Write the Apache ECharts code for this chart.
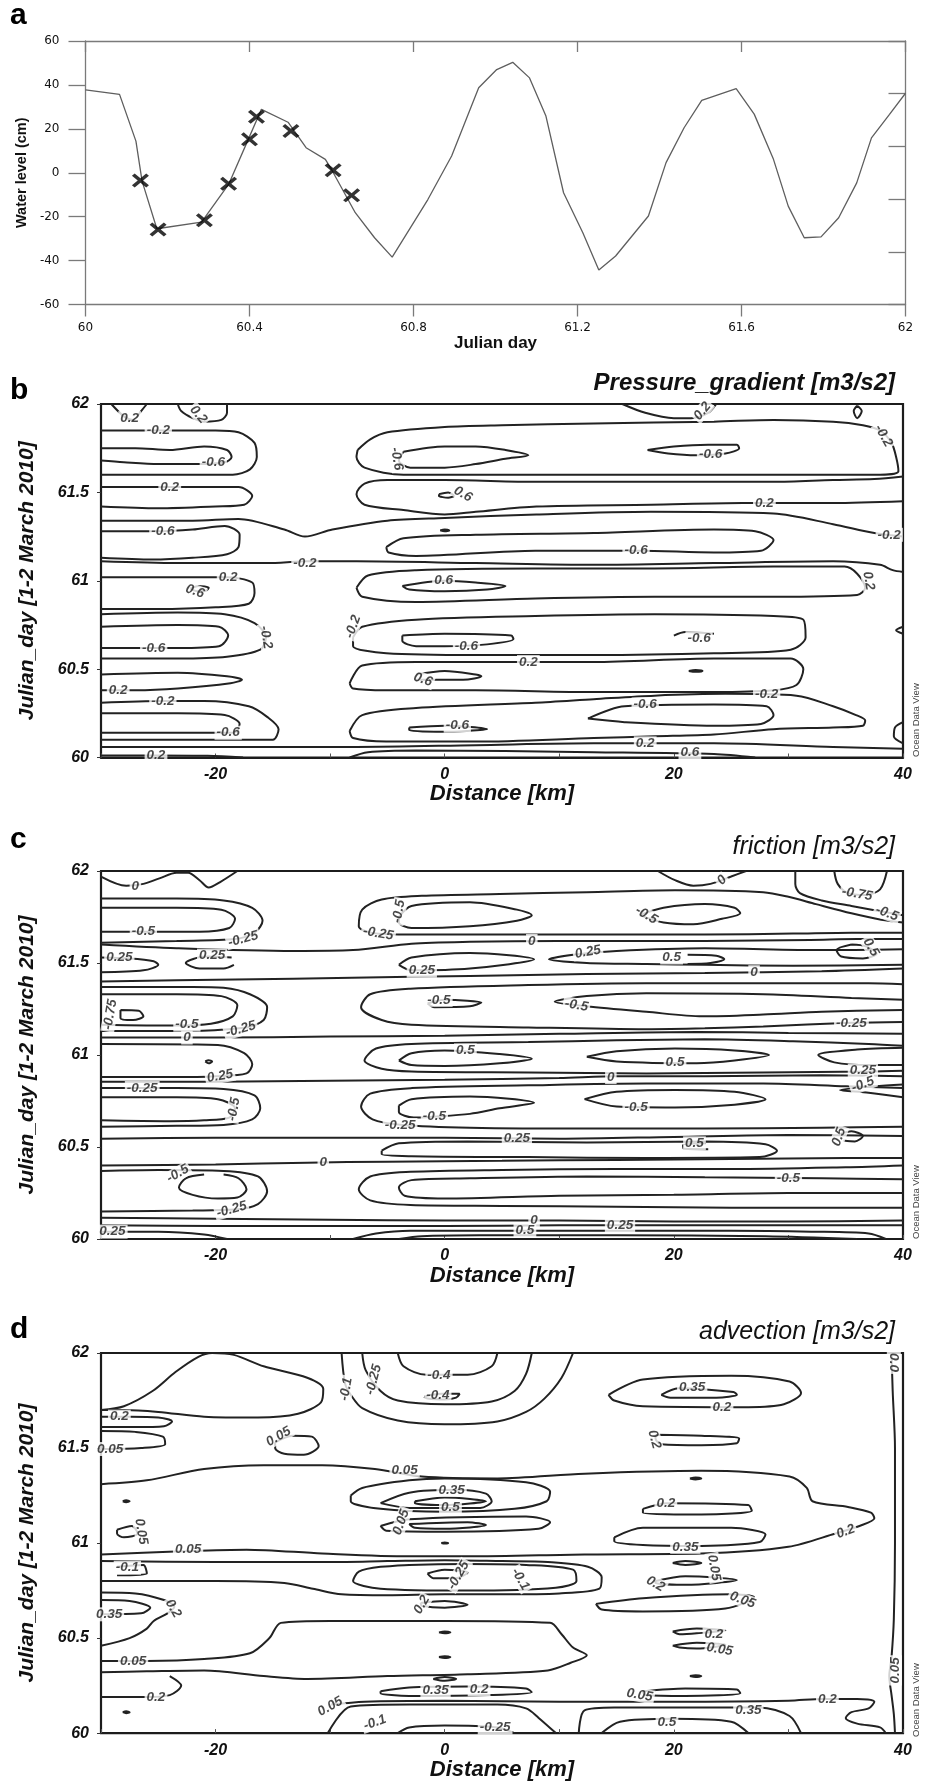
<!DOCTYPE html>
<html><head><meta charset="utf-8">
<script src="https://cdn.jsdelivr.net/npm/echarts@6/dist/echarts.min.js"></script>
<style>html,body{margin:0;padding:0;background:#fff}#chart{width:933px;height:1782px}</style>
</head><body><div id="chart"></div>
<script>
// ---------- Panel a: water level ----------
const wlDays = [60.000,60.083,60.123,60.138,60.174,60.283,60.349,60.397,60.429,60.494,60.538,60.585,60.600,60.658,60.705,60.748,60.835,60.893,60.959,61.003,61.042,61.083,61.123,61.166,61.213,61.252,61.293,61.373,61.416,61.460,61.503,61.587,61.631,61.678,61.714,61.753,61.794,61.837,61.881,61.917,61.961,62.000];
const wlLevels = [37.7,35.7,14.4,-3.8,-25.5,-22.5,-5.3,15.2,28.9,23.0,11.4,6.1,1.5,-18.2,-29.6,-38.4,-12.2,7.6,38.7,47.0,50.3,43.2,25.8,-9.1,-27.3,-44.3,-37.9,-19.7,4.6,20.5,33.0,38.3,26.7,6.1,-15.2,-29.6,-29.2,-20.5,-4.6,15.9,26.6,36.2];
const markDays = [60.134,60.177,60.290,60.349,60.400,60.417,60.501,60.604,60.649];
const markLevels = [-3.5,-25.8,-21.6,-5.0,15.2,25.5,19.0,1.1,-10.3];

// ---------- Panel b: Pressure_gradient contours [km, day] ----------
const pgLines = [
 [[-29.1,62],[-28,61.93],[-27.2,61.91],[-26.5,61.96],[-26,62]],
 [[-23.3,62],[-23,61.96],[-22,61.92],[-21,61.9],[-19.5,61.91],[-19,61.95],[-19,62]],
 [[15.5,62],[17.5,61.95],[20,61.92],[21.5,61.92],[23,61.95],[23.7,62]],
 [[36,61.99],[36.4,61.96],[36,61.92],[35.7,61.96],[36,61.99]],
 [[-30,61.85],[-25,61.85],[-20,61.85],[-18,61.84],[-16.6,61.78],[-16.4,61.7],[-17,61.63],[-18.5,61.6],[-22,61.6],[-26,61.6],[-30,61.6]],
 [[-30,61.75],[-27,61.75],[-24,61.74],[-21,61.76],[-19,61.74],[-18.6,61.7],[-19.2,61.67],[-21.5,61.66],[-25,61.66],[-28,61.67],[-30,61.68]],
 [[-7.6,61.74],[-6.5,61.8],[-5,61.84],[0,61.87],[5,61.88],[13,61.89],[23.5,61.9],[28.7,61.91],[33.9,61.9],[36.5,61.88],[38,61.85],[39,61.78],[39.4,61.7],[39.6,61.62],[38,61.6],[33.9,61.6],[23.5,61.6],[13,61.6],[3,61.6],[-3.6,61.6],[-7,61.64],[-7.7,61.7],[-7.6,61.74]],
 [[-3.6,61.73],[0,61.76],[2.7,61.76],[5.3,61.74],[7.3,61.71],[5.3,61.69],[2.7,61.66],[0,61.64],[-3,61.64],[-4,61.68],[-3.6,61.73]],
 [[17.7,61.74],[20,61.76],[23,61.77],[25.5,61.77],[25.7,61.75],[24.5,61.72],[22,61.71],[19.5,61.72],[17.7,61.74]],
 [[-30,61.53],[-26,61.53],[-22,61.53],[-18,61.53],[-16.8,61.48],[-17.5,61.43],[-20,61.42],[-25,61.41],[-30,61.42]],
 [[40,61.59],[37.5,61.575],[33.9,61.57],[28.7,61.56],[18,61.56],[8,61.56],[0,61.57],[-5,61.57],[-7,61.55],[-7.7,61.49],[-7,61.43],[-3.6,61.4],[0,61.375],[2.7,61.39],[8,61.42],[18,61.43],[26,61.44],[33.9,61.44],[40,61.45]],
 [[-0.5,61.49],[0.3,61.5],[0.8,61.48],[0.3,61.47],[-0.5,61.48],[-0.5,61.49]],
 [[-30,61.34],[-22,61.34],[-18,61.35],[-14,61.29],[-12.2,61.25],[-9.8,61.29],[-5,61.34],[0,61.355],[8,61.375],[18,61.39],[28.7,61.38],[33.9,61.32],[37.5,61.27],[40,61.25]],
 [[-30,61.28],[-25,61.28],[-22,61.29],[-19.2,61.31],[-17.9,61.26],[-18,61.19],[-19,61.15],[-22,61.13],[-25.5,61.12],[-30,61.13]],
 [[-5.1,61.19],[-3.6,61.24],[2.7,61.26],[13,61.27],[23.5,61.29],[27.1,61.28],[28.7,61.23],[27.6,61.17],[23.5,61.16],[17,61.17],[7.9,61.17],[-2.5,61.14],[-4.9,61.16],[-5.1,61.19]],
 [[-0.4,61.285],[0,61.29],[0.4,61.285],[0,61.28],[-0.4,61.285]],
 [[-30,61.11],[-23.3,61.1],[-15.5,61.1],[-12,61.11],[-7.7,61.11],[2.7,61.1],[13,61.09],[23.5,61.1],[33.9,61.11],[38,61.09],[39.1,61.06],[40,61.05]],
 [[-30,61.02],[-22,61.02],[-19,61.02],[-16.8,60.99],[-16.6,60.93],[-17.1,60.87],[-20,60.85],[-25,60.84],[-30,60.84]],
 [[-22.2,60.955],[-21.5,60.97],[-20.6,60.96],[-20.8,60.945],[-21.6,60.94],[-22.2,60.955]],
 [[-7.7,60.96],[-6.7,61.03],[-2.5,61.06],[7.9,61.07],[18.3,61.07],[28.7,61.08],[34.9,61.08],[36,61.04],[36.7,60.96],[36,60.92],[28.7,60.91],[18.3,60.91],[7.9,60.9],[-2.5,60.88],[-7.2,60.91],[-7.7,60.96]],
 [[-3.7,60.97],[0,61.0],[2.7,60.99],[5.3,60.97],[3.7,60.95],[0,60.94],[-3.1,60.95],[-3.7,60.97]],
 [[-30,60.81],[-23.3,60.82],[-19.2,60.81],[-16.6,60.76],[-15.6,60.68],[-16.1,60.61],[-19,60.57],[-23.3,60.56],[-30,60.56]],
 [[-30,60.74],[-23.3,60.75],[-19.7,60.74],[-18.9,60.69],[-19.7,60.63],[-23.3,60.62],[-30,60.62]],
 [[-8,60.68],[-7.2,60.74],[-2.5,60.78],[7.9,60.8],[18.3,60.81],[28.7,60.8],[31.3,60.78],[31.5,60.68],[30.2,60.61],[23.5,60.59],[13,60.58],[2.7,60.58],[-5.1,60.59],[-8,60.63],[-8,60.68]],
 [[-3.7,60.69],[0,60.7],[5.8,60.69],[6,60.67],[3.7,60.64],[0,60.63],[-2.5,60.63],[-3.7,60.66],[-3.7,60.69]],
 [[20,60.69],[21,60.71],[23.5,60.7]],
 [[40,60.74],[39.4,60.72],[40,60.7]],
 [[-30,60.47],[-23.3,60.48],[-19,60.46],[-17.7,60.44],[-18.7,60.42],[-23.3,60.39],[-27,60.38],[-30,60.38]],
 [[-8.3,60.42],[-7.2,60.52],[-2.5,60.54],[5.3,60.54],[13,60.54],[23.5,60.56],[30.2,60.56],[31.3,60.5],[30.7,60.41],[28.7,60.38],[23.5,60.37],[13,60.37],[2.7,60.38],[-5.1,60.38],[-8,60.39],[-8.3,60.42]],
 [[-2.5,60.47],[0,60.49],[2.7,60.47],[3.2,60.46],[1.6,60.44],[-2.5,60.44]],
 [[21.3,60.49],[21.9,60.495],[22.5,60.49],[21.9,60.485],[21.3,60.49]],
 [[-30,60.31],[-24.6,60.32],[-21,60.32],[-17.1,60.29],[-15.5,60.23],[-14.5,60.16],[-15,60.1],[-18.1,60.1],[-23.3,60.1],[-30,60.1]],
 [[-30,60.25],[-23.3,60.25],[-19.2,60.24],[-17.9,60.19],[-18.4,60.14],[-23.3,60.14],[-30,60.14]],
 [[-8.3,60.15],[-7.2,60.24],[-2.5,60.28],[7.9,60.31],[13,60.33],[18.3,60.35],[24.5,60.36],[30.7,60.35],[33.9,60.29],[35.9,60.24],[36.7,60.21],[36.5,60.18],[33.9,60.17],[28.7,60.16],[23.5,60.13],[18.3,60.12],[13,60.11],[2.7,60.09],[-5.1,60.09],[-8,60.11],[-8.3,60.15]],
 [[-3.1,60.17],[0,60.18],[3.7,60.16],[1.9,60.15],[0,60.145],[-3.1,60.155],[-3.1,60.17]],
 [[12.5,60.22],[15.7,60.29],[23.5,60.3],[28.1,60.29],[28.7,60.24],[27.6,60.19],[23.5,60.18],[15.7,60.2],[12.5,60.22]],
 [[40,60.2],[39.3,60.17],[39.2,60.12],[40,60.08]],
 [[-30,60.06],[-18.1,60.06],[-7.7,60.06],[2.7,60.07],[13,60.08],[23.5,60.08],[33.9,60.06],[40,60.05]],
 [[-30,60.012],[-25.2,60.012],[-20.7,60.01],[-17.6,60]],
 [[-8.3,60],[-6.7,60.03],[-2.5,60.04],[13,60.03],[23.5,60.02],[27.1,60]]
];
const pgLabels = [
 [-27.5,61.92,'0.2',0],[-21.5,61.94,'0.2',-50],[22.5,61.96,'0.2',50],
 [-25,61.85,'-0.2',0],[-20.2,61.67,'-0.6',0],[38.3,61.82,'-0.2',-60],[-4.2,61.69,'-0.6',-80],[23.2,61.715,'-0.6',0],
 [-24,61.53,'0.2',0],[1.6,61.49,'0.6',-30],[27.9,61.44,'0.2',0],
 [38.8,61.26,'-0.2',0],[-24.6,61.28,'-0.6',0],[16.7,61.17,'-0.6',0],[-12.2,61.1,'-0.2',0],
 [-18.9,61.02,'0.2',0],[-21.8,60.94,'0.6',-20],[37,61.0,'0.2',-80],[-0.1,61.0,'0.6',0],
 [-15.6,60.68,'-0.2',-80],[-25.4,60.62,'-0.6',0],[-8,60.74,'-0.2',70],[1.9,60.63,'-0.6',0],[22.2,60.675,'-0.6',0],
 [-28.5,60.38,'0.2',0],[7.3,60.54,'0.2',0],[-1.9,60.44,'0.6',-20],
 [-24.6,60.32,'-0.2',0],[-18.9,60.14,'-0.6',0],[28.1,60.36,'-0.2',0],[1.1,60.18,'-0.6',0],[17.5,60.3,'-0.6',0],
 [17.5,60.08,'0.2',0],[-25.2,60.012,'0.2',0],[21.4,60.03,'0.6',0]
];

// ---------- Panel c: friction contours ----------
const frLines = [
 [[-30,61.97],[-27.8,61.92],[-26.3,61.93],[-24.9,61.96],[-23.4,61.99],[-22.4,61.99],[-21.4,61.95],[-20.6,61.91],[-19.6,61.94],[-18.1,62]],
 [[18.6,62],[20.1,61.95],[21.7,61.92],[23.2,61.93],[25,61.97],[26.3,62]],
 [[30.6,62],[30.6,61.93],[31,61.88],[32.9,61.84],[35.5,61.81],[38.1,61.78],[40,61.76]],
 [[34,62],[34.3,61.93],[35.2,61.88],[36.7,61.87],[38,61.9],[38.6,62]],
 [[-30,61.85],[-23.4,61.85],[-19.3,61.84],[-16.8,61.8],[-15.9,61.73],[-16.5,61.67],[-18.3,61.63],[-23.4,61.62],[-30,61.61]],
 [[-30,61.8],[-23.4,61.8],[-19.5,61.79],[-18.3,61.74],[-18.8,61.69],[-21.4,61.67],[-24.5,61.67],[-30,61.67]],
 [[40,61.72],[38.1,61.735],[35.5,61.77],[32.4,61.82],[30,61.86],[27.8,61.885],[20.1,61.895],[12.4,61.885],[4.8,61.875],[-2,61.865],[-5.5,61.845],[-7.2,61.79],[-7.5,61.7],[-6.5,61.665],[-4,61.655],[2.2,61.655],[12.4,61.655],[22.7,61.655],[30.4,61.66],[35.5,61.665],[40,61.665]],
 [[-4,61.75],[-2.9,61.81],[2.2,61.83],[6.3,61.79],[7.6,61.76],[6.3,61.73],[2.2,61.7],[-2.9,61.69],[-4,61.72],[-4,61.75]],
 [[17,61.76],[19.1,61.8],[22.7,61.82],[25.3,61.8],[25.8,61.77],[24.2,61.74],[21.7,61.71],[19.1,61.72],[17,61.76]],
 [[-30,61.6],[-23.4,61.58],[-13.2,61.565],[-8,61.57],[-2.9,61.605],[2.2,61.615],[9.9,61.62],[22.7,61.62],[31.9,61.625],[36,61.63],[40,61.63]],
 [[-30,61.53],[-27.5,61.525],[-25.4,61.51],[-25,61.49],[-26.3,61.46],[-30,61.45]],
 [[-18.6,61.53],[-20.9,61.535],[-22.6,61.5],[-21.4,61.47],[-19.3,61.47],[-18.4,61.49]],
 [[-4,61.49],[-2.9,61.53],[2.2,61.555],[7.8,61.52],[2.2,61.47],[-2.9,61.46],[-4,61.49]],
 [[40,61.575],[32.9,61.57],[22.7,61.58],[15,61.565],[11.2,61.545],[9.1,61.52],[12.4,61.5],[17.6,61.495],[22.7,61.49],[30.4,61.485],[40,61.49]],
 [[21.2,61.545],[23.7,61.54],[24.4,61.52],[23.2,61.5],[21.2,61.495]],
 [[35.5,61.6],[34.2,61.57],[34.6,61.535],[36.5,61.525],[37.7,61.55],[36.8,61.59],[35.5,61.6]],
 [[-30,61.4],[-18.3,61.41],[-8.1,61.42],[2.2,61.43],[12.4,61.44],[22.7,61.445],[32.9,61.455],[40,61.47]],
 [[-30,61.37],[-22,61.37],[-19.3,61.365],[-17,61.33],[-15.5,61.26],[-15.8,61.19],[-17.3,61.15],[-23.4,61.13],[-30,61.13]],
 [[-30,61.33],[-23.4,61.33],[-19.5,61.32],[-18.1,61.27],[-18.5,61.21],[-20.4,61.17],[-23.4,61.16],[-30,61.165]],
 [[-28.3,61.245],[-26.7,61.24],[-26.3,61.21],[-27.2,61.19],[-28.3,61.2],[-28.3,61.245]],
 [[40,61.385],[37,61.39],[27.8,61.39],[17.6,61.39],[7.3,61.38],[-3,61.36],[-6.5,61.33],[-7.3,61.26],[-5.5,61.19],[-2.9,61.165],[7.3,61.15],[17.6,61.14],[22.7,61.145],[27.8,61.155],[35.5,61.175],[40,61.18]],
 [[-1.5,61.28],[0,61.3],[3.2,61.285],[2.2,61.265],[-0.9,61.26],[-1.5,61.28]],
 [[40,61.3],[35.5,61.31],[27.8,61.33],[17.6,61.335],[12.4,61.32],[9.6,61.29],[12.4,61.265],[17.6,61.235],[22.5,61.21],[27.8,61.22],[32.9,61.235],[40,61.245]],
 [[-30,61.095],[-20,61.095],[-10,61.1],[0,61.105],[10,61.115],[22,61.125],[30,61.12],[40,61.115]],
 [[-30,61.06],[-19.8,61.055],[-17.5,61.01],[-16.8,60.95],[-17.3,60.9],[-20,60.885],[-23.4,60.88],[-30,60.88]],
 [[-20.9,60.965],[-20.6,60.972],[-20.3,60.965],[-20.6,60.955],[-20.9,60.965]],
 [[40,61.05],[37,61.06],[30.4,61.075],[22.7,61.085],[15,61.08],[7.3,61.07],[-2.9,61.06],[-6,61.035],[-7,60.97],[-5.5,60.925],[-2.9,60.91],[7.3,60.905],[17.6,60.9],[27.8,60.905],[37,60.91],[40,60.915]],
 [[-4,60.97],[-2.9,61.01],[0,61.025],[4.8,61.005],[7.6,60.98],[4.8,60.955],[0,60.94],[-2.9,60.945],[-4,60.97]],
 [[12.4,60.99],[15,61.02],[20.1,61.035],[25.3,61.025],[28.3,61.0],[25.3,60.97],[22,60.955],[15,60.965],[12.4,60.99]],
 [[40,61.04],[36,61.03],[32.6,61.0],[34,60.96],[37,60.945],[40,60.945]],
 [[-30,60.855],[-20,60.855],[-10,60.86],[0,60.865],[10,60.875],[15,60.885],[22.7,60.885],[32.9,60.89],[40,60.885]],
 [[-30,60.82],[-23.4,60.82],[-19.3,60.815],[-16.6,60.78],[-16.1,60.71],[-16.8,60.65],[-19.3,60.62],[-23.4,60.615],[-30,60.61]],
 [[-30,60.77],[-23.4,60.77],[-19.8,60.76],[-18.3,60.71],[-18.8,60.66],[-21,60.645],[-24,60.64],[-30,60.645]],
 [[40,60.82],[35,60.83],[27.8,60.845],[17.6,60.845],[7.3,60.835],[-2.9,60.82],[-6.5,60.79],[-7.3,60.72],[-6.3,60.65],[-3.7,60.62],[2.2,60.605],[12.4,60.6],[22.7,60.6],[32.9,60.605],[40,60.61]],
 [[-4,60.725],[-2.9,60.76],[2.2,60.775],[7.8,60.74],[4.8,60.71],[2.2,60.68],[-1,60.665],[-2.7,60.66],[-4,60.69],[-4,60.725]],
 [[12.2,60.76],[15,60.8],[20.1,60.81],[25.3,60.8],[28,60.76],[25.3,60.73],[20.1,60.715],[15,60.72],[12.2,60.76]],
 [[40,60.77],[37,60.795],[34.5,60.81],[37.5,60.83],[40,60.84]],
 [[-30,60.545],[-20,60.55],[-10,60.55],[0,60.55],[10,60.545],[20,60.555],[30,60.565],[40,60.56]],
 [[-5.5,60.48],[-4,60.52],[2,60.53],[12.4,60.525],[22.7,60.53],[28,60.515],[29,60.48],[27.5,60.445],[17.6,60.44],[7.3,60.445],[-2.9,60.45],[-5.5,60.46],[-5.5,60.48]],
 [[22.8,60.52],[20.8,60.51],[20.9,60.49],[23,60.488]],
 [[34.5,60.57],[35.5,60.585],[36.5,60.56],[35.8,60.53],[34.8,60.535]],
 [[-30,60.4],[-20,60.405],[-12,60.415],[-5,60.42],[5,60.425],[15,60.43],[25,60.435],[35,60.44],[40,60.44]],
 [[-21,60.35],[-22.6,60.33],[-23.2,60.28],[-22,60.24],[-19.8,60.22],[-18.1,60.225],[-17.3,60.27],[-18,60.33],[-19.3,60.35]],
 [[-30,60.37],[-25,60.375],[-19.3,60.37],[-16.3,60.34],[-15.5,60.26],[-16.3,60.19],[-18.3,60.16],[-22,60.155],[-30,60.15]],
 [[40,60.4],[35,60.39],[25,60.38],[15,60.38],[5,60.375],[-3,60.365],[-6.5,60.34],[-7.5,60.27],[-6.5,60.21],[-3,60.185],[5,60.18],[15,60.175],[25,60.17],[35,60.17],[40,60.17]],
 [[40,60.25],[30,60.25],[20,60.24],[10,60.235],[0,60.22],[-3.5,60.235],[-4,60.28],[-2.9,60.32],[2.2,60.33],[12.4,60.34],[22.7,60.335],[32.9,60.33],[40,60.325]],
 [[-30,60.115],[-20,60.11],[-10,60.105],[0,60.1],[10,60.1],[20,60.095],[30,60.095],[40,60.1]],
 [[-30,60.075],[-20,60.07],[-10,60.07],[0,60.07],[10,60.075],[20,60.075],[30,60.075],[40,60.075]],
 [[-30,60.04],[-25,60.04],[-21,60.025],[-19,60]],
 [[-8,60],[-6,60.03],[-3,60.045],[5,60.045],[15,60.045],[25,60.045],[32,60.04],[37,60.03],[38.5,60]],
 [[-4,60],[-2,60.015],[3,60.02],[15,60.02],[28,60.015],[36,60]]
];
const frLabels = [
 [-27,61.915,'0',0],[24.2,61.95,'0',45],[38.6,61.77,'-0.5',-20],[36,61.875,'-0.75',-10],
 [-17.6,61.63,'-0.25',15],[-26.3,61.67,'-0.5',0],[-5.8,61.66,'-0.25',-10],[-4,61.78,'-0.5',80],[17.6,61.76,'-0.5',-30],
 [7.6,61.62,'0',0],[-28.4,61.53,'0.25',0],[-20.3,61.54,'0.25',0],[-2,61.458,'0.25',0],[12.5,61.56,'0.25',10],
 [19.8,61.53,'0.5',0],[37.2,61.585,'0.5',-60],[27,61.45,'0',0],
 [-17.8,61.14,'-0.25',15],[-22.5,61.165,'-0.5',0],[-29.2,61.22,'-0.75',80],[35.5,61.175,'-0.25',0],[-0.5,61.3,'-0.5',0],[11.5,61.27,'-0.5',-10],
 [-22.5,61.095,'0',0],[-19.6,60.885,'0.25',10],[36.5,60.915,'0.25',0],[1.8,61.025,'0.5',0],[20.1,60.958,'0.5',0],[14.5,60.88,'0',0],
 [-26.4,60.82,'-0.25',0],[-18.4,60.705,'-0.5',80],[-3.9,60.62,'-0.25',0],[-0.9,60.665,'-0.5',0],[16.7,60.717,'-0.5',0],[36.5,60.84,'-0.5',20],
 [6.3,60.55,'0.25',0],[21.8,60.52,'0.5',0],[34.4,60.555,'0.5',70],[-10.6,60.415,'0',0],
 [-23.3,60.355,'-0.5',30],[-18.6,60.16,'-0.25',15],[30,60.33,'-0.5',0],
 [7.8,60.1,'0',0],[15.3,60.075,'0.25',0],[-29,60.04,'0.25',0],[7,60.045,'0.5',0]
];

// ---------- Panel d: advection contours ----------
const adLines = [
 [[-30,61.7],[-28,61.72],[-25.5,61.8],[-23.5,61.9],[-21.5,61.98],[-20.3,62],[-18.4,61.99],[-15.8,61.93],[-12,61.87],[-10.6,61.81],[-10.8,61.74],[-12.8,61.68],[-16.3,61.66],[-21,61.665],[-25,61.69],[-28,61.7],[-30,61.7]],
 [[-30,61.665],[-27.5,61.665],[-25,61.66],[-23.8,61.64],[-24.5,61.615],[-27,61.61],[-30,61.61]],
 [[-30,61.59],[-27,61.585],[-24.6,61.56],[-24.4,61.52],[-26.5,61.5],[-30,61.495]],
 [[-14.8,61.53],[-13.3,61.565],[-11.6,61.56],[-11,61.51],[-12.3,61.465],[-14,61.47],[-14.8,61.5],[-14.8,61.53]],
 [[-9,62],[-8.7,61.84],[-8.2,61.78],[-7.2,61.71],[-4.1,61.645],[0,61.625],[4.6,61.64],[7.1,61.69],[8.7,61.76],[10.2,61.87],[11.2,62]],
 [[-7.2,62],[-6.9,61.91],[-5.6,61.8],[-4.1,61.75],[0,61.73],[4.1,61.745],[6.1,61.8],[7.1,61.89],[7.6,62]],
 [[-4.1,62],[-3.6,61.93],[-1.6,61.885],[2,61.885],[4.1,61.93],[4.6,62]],
 [[-1.8,61.77],[-0.3,61.785],[1.3,61.785],[1,61.765],[0,61.755],[-1.5,61.76],[-1.8,61.77]],
 [[14.3,61.78],[17.3,61.86],[25,61.88],[30.1,61.85],[31.1,61.79],[29.6,61.73],[26.5,61.715],[17.3,61.72],[14.8,61.75],[14.3,61.78]],
 [[18.9,61.78],[20.4,61.815],[25.2,61.795],[25.5,61.78],[23.7,61.765],[19.7,61.765],[18.9,61.78]],
 [[18.4,61.57],[22.4,61.565],[25.7,61.55],[25.5,61.525],[22.4,61.515],[18.9,61.52],[18.4,61.55],[18.4,61.57]],
 [[-30,61.31],[-26,61.33],[-21,61.39],[-15.8,61.41],[-10.7,61.41],[-6.1,61.39],[-2,61.35],[4.6,61.34],[12.2,61.365],[22.4,61.38],[30.1,61.35],[31.6,61.29],[32.1,61.22],[35.2,61.19],[37.2,61.16],[37.5,61.13],[36.2,61.09],[34.1,61.05],[30,60.98],[22.4,60.945],[12.2,60.94],[2,60.93],[-3.1,60.93],[-10.7,60.945],[-17.3,60.965],[-23.5,60.955],[-30,60.94]],
 [[-8.2,61.25],[-7.2,61.29],[-3.1,61.33],[0,61.34],[7.1,61.32],[9.2,61.27],[8.9,61.22],[6.1,61.18],[0,61.165],[-5.6,61.18],[-8.2,61.22],[-8.2,61.25]],
 [[-5.6,61.21],[-3.1,61.265],[1,61.28],[3.6,61.26],[4.1,61.22],[3.1,61.185],[-3.1,61.185],[-5.6,61.21]],
 [[-2.6,61.22],[0,61.24],[3.6,61.22],[0,61.2],[-2.6,61.21],[-2.6,61.22]],
 [[-5.6,61.09],[-3.1,61.125],[7.1,61.14],[9.2,61.11],[8.2,61.075],[0,61.06],[-5.1,61.065],[-5.6,61.09]],
 [[-3.1,61.1],[2,61.11],[3.6,61.095],[0,61.075],[-2.6,61.08],[-3.1,61.1]],
 [[21.4,61.34],[21.9,61.345],[22.4,61.34],[21.9,61.335],[21.4,61.34]],
 [[17.3,61.18],[19.4,61.21],[26.5,61.2],[26.8,61.17],[22.4,61.15],[17.3,61.16],[17.3,61.18]],
 [[14.8,61.03],[17.3,61.08],[25,61.08],[28,61.045],[27.5,61.005],[22.4,60.985],[17.3,60.99],[14.8,61.01],[14.8,61.03]],
 [[-28.1,61.22],[-27.8,61.225],[-27.5,61.22],[-27.8,61.215],[-28.1,61.22]],
 [[-28.6,61.07],[-27.3,61.09],[-26.8,61.05],[-28,61.03],[-28.6,61.05],[-28.6,61.07]],
 [[-0.3,61.0],[0,61.003],[0.3,61.0],[0,60.997],[-0.3,61.0]],
 [[-28.6,60.875],[-26.3,60.885],[-26,60.84],[-28.6,60.83]],
 [[-30,60.905],[-20,60.9],[-10,60.9],[-5,60.905],[0,60.91],[5,60.905],[9,60.9],[12.5,60.875],[13.7,60.82],[13.5,60.76],[10,60.735],[5,60.73],[0,60.73],[-5,60.725],[-9,60.73],[-11.5,60.76],[-14,60.79],[-20,60.8],[-30,60.8]],
 [[-5.6,60.875],[-3.1,60.885],[2,60.89],[7.1,60.885],[11.2,60.86],[11.5,60.8],[9.7,60.765],[2,60.75],[-5.6,60.76],[-8,60.8],[-7.5,60.85],[-5.6,60.875]],
 [[-1.5,60.84],[0,60.86],[2,60.845],[1,60.815],[-1,60.815],[-1.5,60.84]],
 [[-2.1,60.685],[0,60.695],[2,60.675],[0,60.66],[-2,60.67],[-2.1,60.685]],
 [[19.9,60.895],[21,60.905],[22.4,60.895],[21,60.885],[19.9,60.895]],
 [[18.4,60.8],[21,60.825],[25.5,60.805],[21,60.78],[18.4,60.79],[18.4,60.8]],
 [[13.2,60.68],[17.3,60.71],[25,60.73],[27,60.715],[24.5,60.655],[17.3,60.64],[13.7,60.65],[13.2,60.68]],
 [[-30,60.7],[-27.5,60.695],[-25.7,60.66],[-26.5,60.63],[-30,60.625]],
 [[-30,60.74],[-27,60.735],[-24.5,60.7],[-23.6,60.665],[-24.2,60.63],[-25.4,60.59],[-26,60.55],[-27.5,60.5],[-30,60.46]],
 [[-30,60.38],[-26,60.38],[-21,60.39],[-17,60.42],[-15.3,60.5],[-14.3,60.58],[-10,60.59],[0,60.59],[9.2,60.58],[10.2,60.52],[11.2,60.45],[12.4,60.41],[11,60.37],[9,60.33],[2,60.31],[-5,60.3],[-12,60.285],[-15.8,60.3],[-21,60.33],[-26,60.325],[-30,60.32]],
 [[39,62],[39.1,61.8],[39.3,61.5],[39.3,61],[39.2,60.6],[39,60.4],[38.8,60.3],[39,60.2],[39.2,60.1],[39.3,60]],
 [[19.9,60.535],[22,60.55],[24.5,60.54],[22,60.525],[20.5,60.52],[19.9,60.535]],
 [[19.9,60.46],[22,60.475],[24.5,60.465],[22,60.445],[20.5,60.45],[19.9,60.46]],
 [[21.4,60.3],[21.9,60.305],[22.4,60.3],[21.9,60.295],[21.4,60.3]],
 [[17.3,60.22],[21,60.235],[25.5,60.23],[25.8,60.21],[21,60.195],[17.5,60.2],[17.3,60.22]],
 [[-0.5,60.53],[0,60.535],[0.5,60.53],[0,60.525],[-0.5,60.53]],
 [[-0.5,60.4],[0,60.405],[0.5,60.4],[0,60.395],[-0.5,60.4]],
 [[-1,60.285],[0,60.295],[1,60.285],[0,60.275],[-1,60.285]],
 [[-5.6,60.22],[-3.1,60.24],[2,60.245],[7.1,60.235],[7.6,60.215],[4,60.2],[-3.1,60.195],[-5.6,60.21],[-5.6,60.22]],
 [[-9.9,60.15],[-7,60.165],[0,60.17],[10,60.165],[20,60.165],[30,60.17],[33,60.18],[36,60.18],[37.5,60.165],[37,60.13],[35.5,60.11],[35,60.08],[36,60.05],[38,60.03],[38.5,60]],
 [[-10.2,60],[-8.2,60.14],[-3.1,60.15],[4.6,60.15],[7.1,60.13],[8.2,60.08],[9.7,60]],
 [[-4.1,60],[-3.1,60.03],[0,60.04],[4.6,60.03],[6.1,60]],
 [[11.7,60],[12.2,60.12],[14.8,60.135],[27.5,60.135],[30.1,60.09],[31.1,60]],
 [[13.7,60],[15.3,60.06],[19.9,60.075],[25,60.06],[26.5,60]],
 [[-30,60.19],[-26,60.19],[-24,60.2],[-23,60.25],[-24,60.3]],
 [[-28.1,60.11],[-27.8,60.115],[-27.5,60.11],[-27.8,60.105],[-28.1,60.11]]
];
const adLabels = [
 [-28.4,61.665,'0.2',0],[-29.2,61.495,'0.05',0],[-14.5,61.56,'0.05',30],
 [-8.6,61.81,'-0.1',80],[-6.2,61.86,'-0.25',75],[-0.5,61.885,'-0.4',0],[-0.6,61.78,'-0.4',0],
 [24.2,61.713,'0.2',0],[21.6,61.82,'0.35',0],[18.3,61.545,'0.2',-75],
 [-3.5,61.385,'0.05',0],[-22.4,60.965,'0.05',0],[35,61.06,'0.2',20],
 [0.6,61.28,'0.35',0],[0.5,61.19,'0.5',0],[-3.8,61.11,'0.05',70],[19.3,61.21,'0.2',0],[21,60.98,'0.35',0],
 [-26.5,61.06,'0.05',-80],[-27.7,60.87,'-0.1',0],[6.6,60.81,'-0.1',-60],[1.2,60.83,'-0.25',60],[-2,60.675,'0.2',60],
 [23.5,60.87,'0.05',-80],[18.4,60.785,'0.2',-30],[26,60.7,'0.05',-20],
 [-29.3,60.625,'0.35',0],[-23.7,60.655,'0.2',-60],[-27.2,60.38,'0.05',0],
 [39.2,61.95,'0.0',-90],[39.3,60.33,'0.05',90],
 [23.5,60.52,'0.2',0],[24,60.44,'0.05',-10],[17,60.2,'0.05',-10],
 [-0.8,60.225,'0.35',0],[3,60.23,'0.2',0],[-10,60.14,'0.05',30],[33.4,60.178,'0.2',0],
 [-6.1,60.055,'-0.1',20],[4.4,60.03,'-0.25',0],[26.5,60.12,'0.35',0],[19.4,60.055,'0.5',0],[-25.2,60.19,'0.2',0]
];

// ---------- build ----------
const SANS = "'Liberation Sans', Arial, sans-serif";
const NARROW = "'Liberation Sans Narrow', 'Liberation Sans', Arial, sans-serif";
const chart = echarts.init(document.getElementById('chart'), null, {renderer:'canvas'});

const gridsPx = [
 {left:85.5, top:41, width:820, height:263.5},
 {left:101, top:404, width:802, height:353.5, show:true, borderColor:'#1c1c1c', borderWidth:2.2},
 {left:101, top:871, width:802, height:368, show:true, borderColor:'#1c1c1c', borderWidth:2.2},
 {left:101, top:1353, width:802, height:384, show:true, borderColor:'#1c1c1c', borderWidth:2.2}
];

const greyLine = {lineStyle:{color:'#7a7a7a', width:1.3}};
const xAxes = [
 {type:'value', gridIndex:0, min:60, max:62, interval:0.4, position:'bottom',
  axisLine:{show:true, onZero:false, ...greyLine}, axisTick:{show:true, length:12, ...greyLine},
  axisLabel:{margin:17, color:'#111', fontSize:12, fontFamily:"'DejaVu Sans', sans-serif", formatter:v=>String(+v.toFixed(1))},
  splitLine:{show:false}, name:'Julian day', nameLocation:'middle', nameGap:29,
  nameTextStyle:{fontSize:17, fontWeight:'bold', color:'#111', fontFamily:SANS}},
 {type:'value', gridIndex:0, min:60, max:62, interval:0.4, position:'top',
  axisLine:{show:true, onZero:false, ...greyLine}, axisTick:{show:true, inside:true, length:11, ...greyLine},
  axisLabel:{show:false}, splitLine:{show:false}}
];
const yAxes = [
 {type:'value', gridIndex:0, min:-60, max:60, interval:20, position:'left',
  axisLine:{show:true, onZero:false, ...greyLine}, axisTick:{show:true, length:17, ...greyLine},
  axisLabel:{margin:26, color:'#111', fontSize:12, fontFamily:"'DejaVu Sans', sans-serif"},
  splitLine:{show:false}, name:'Water level (cm)', nameLocation:'middle', nameGap:56,
  nameTextStyle:{fontSize:14.5, fontWeight:'bold', color:'#111', fontFamily:SANS}},
 {type:'value', gridIndex:0, min:0, max:5, interval:1, position:'right',
  axisLine:{show:true, onZero:false, ...greyLine}, axisTick:{show:true, inside:true, length:17, ...greyLine},
  axisLabel:{show:false}, splitLine:{show:false}}
];
const tickFont = {color:'#111', fontSize:16, fontStyle:'italic', fontWeight:'bold', fontFamily:SANS};
for (let g = 1; g <= 3; g++) {
  xAxes.push({type:'value', gridIndex:g, min:-30, max:40, interval:10, position:'bottom',
    axisLine:{show:true, onZero:false, lineStyle:{color:'#1c1c1c', width:2}},
    axisTick:{show:true, inside:true, length:4, lineStyle:{color:'#555', width:1}},
    axisLabel:{margin:9, ...tickFont, formatter:v => (v % 20 === 0 ? String(v) : '')},
    splitLine:{show:false}, name:'Distance [km]', nameLocation:'middle', nameGap:25,
    nameTextStyle:{fontSize:22, fontStyle:'italic', fontWeight:'bold', color:'#111', fontFamily:SANS}});
  yAxes.push({type:'value', gridIndex:g, min:60, max:62, interval:0.5, position:'left',
    axisLine:{show:true, onZero:false, lineStyle:{color:'#1c1c1c', width:2}},
    axisTick:{show:true, length:4, lineStyle:{color:'#333', width:1}},
    axisLabel:{margin:12, ...tickFont},
    splitLine:{show:false}, name:'Julian_day [1-2 March 2010]', nameLocation:'middle', nameGap:63,
    nameTextStyle:{fontSize:21, fontStyle:'italic', fontWeight:'bold', color:'#111', fontFamily:SANS}});
}

const series = [];
series.push({type:'line', xAxisIndex:0, yAxisIndex:0, data:wlDays.map((d,i)=>[d, wlLevels[i]]),
  showSymbol:false, symbol:'none', lineStyle:{color:'#5e5e5e', width:1.3}, silent:true, animation:false, z:3});
series.push({type:'scatter', xAxisIndex:0, yAxisIndex:0, data:markDays.map((d,i)=>[d, markLevels[i]]),
  symbol:'path://M0,1.6L1.6,0L5,3.4L8.4,0L10,1.6L6.6,5L10,8.4L8.4,10L5,6.6L1.6,10L0,8.4L3.4,5Z', symbolSize:[17,14],
  itemStyle:{color:'#000'}, silent:true, animation:false, z:4});

function addPanel(lines, labels, idx) {
  lines.forEach(pts => series.push({type:'line', xAxisIndex:idx, yAxisIndex:idx, data:pts, smooth:0.3,
    showSymbol:false, symbol:'none', lineStyle:{color:'#222', width:2}, silent:true, animation:false, clip:true, z:2}));
  series.push({type:'scatter', xAxisIndex:idx, yAxisIndex:idx, symbolSize:0, silent:true, animation:false, z:6,
    data:labels.map(l => ({value:[l[0], l[1]], label:{rotate:l[3], formatter:l[2]}})),
    label:{show:true, position:'inside', color:'#1a1a1a', fontSize:13.5, fontStyle:'italic', fontWeight:'bold',
      fontFamily:NARROW, backgroundColor:'#ffffff', padding:[0,2]}});
}
addPanel(pgLines, pgLabels, 2);
addPanel(frLines, frLabels, 3);
addPanel(adLines, adLabels, 4);

const letter = (t, y) => ({type:'text', x:10, y:y, style:{text:t, font:"bold 30px " + SANS, fill:'#000', textAlign:'left', textVerticalAlign:'middle'}});
const title = (t, y, font) => ({type:'text', x:895, y:y, style:{text:t, font:font, fill:'#111', textAlign:'right', textVerticalAlign:'middle'}});
const odv = (y) => ({type:'text', x:916, y:y, rotation:Math.PI/2, style:{text:'Ocean Data View', font:"9.5px " + SANS, fill:'#444', textAlign:'left', textVerticalAlign:'middle'}});

chart.setOption({
  animation:false,
  backgroundColor:'#ffffff',
  grid: gridsPx,
  xAxis: xAxes,
  yAxis: yAxes,
  series: series,
  graphic: [
    letter('a', 16), letter('b', 391), letter('c', 840), letter('d', 1330),
    title('Pressure_gradient [m3/s2]', 383, "italic bold 24px " + SANS),
    title('friction [m3/s2]', 847, "italic 25px " + NARROW),
    title('advection [m3/s2]', 1332, "italic 25px " + NARROW),
    odv(757), odv(1239), odv(1737)
  ]
});
</script></body></html>
